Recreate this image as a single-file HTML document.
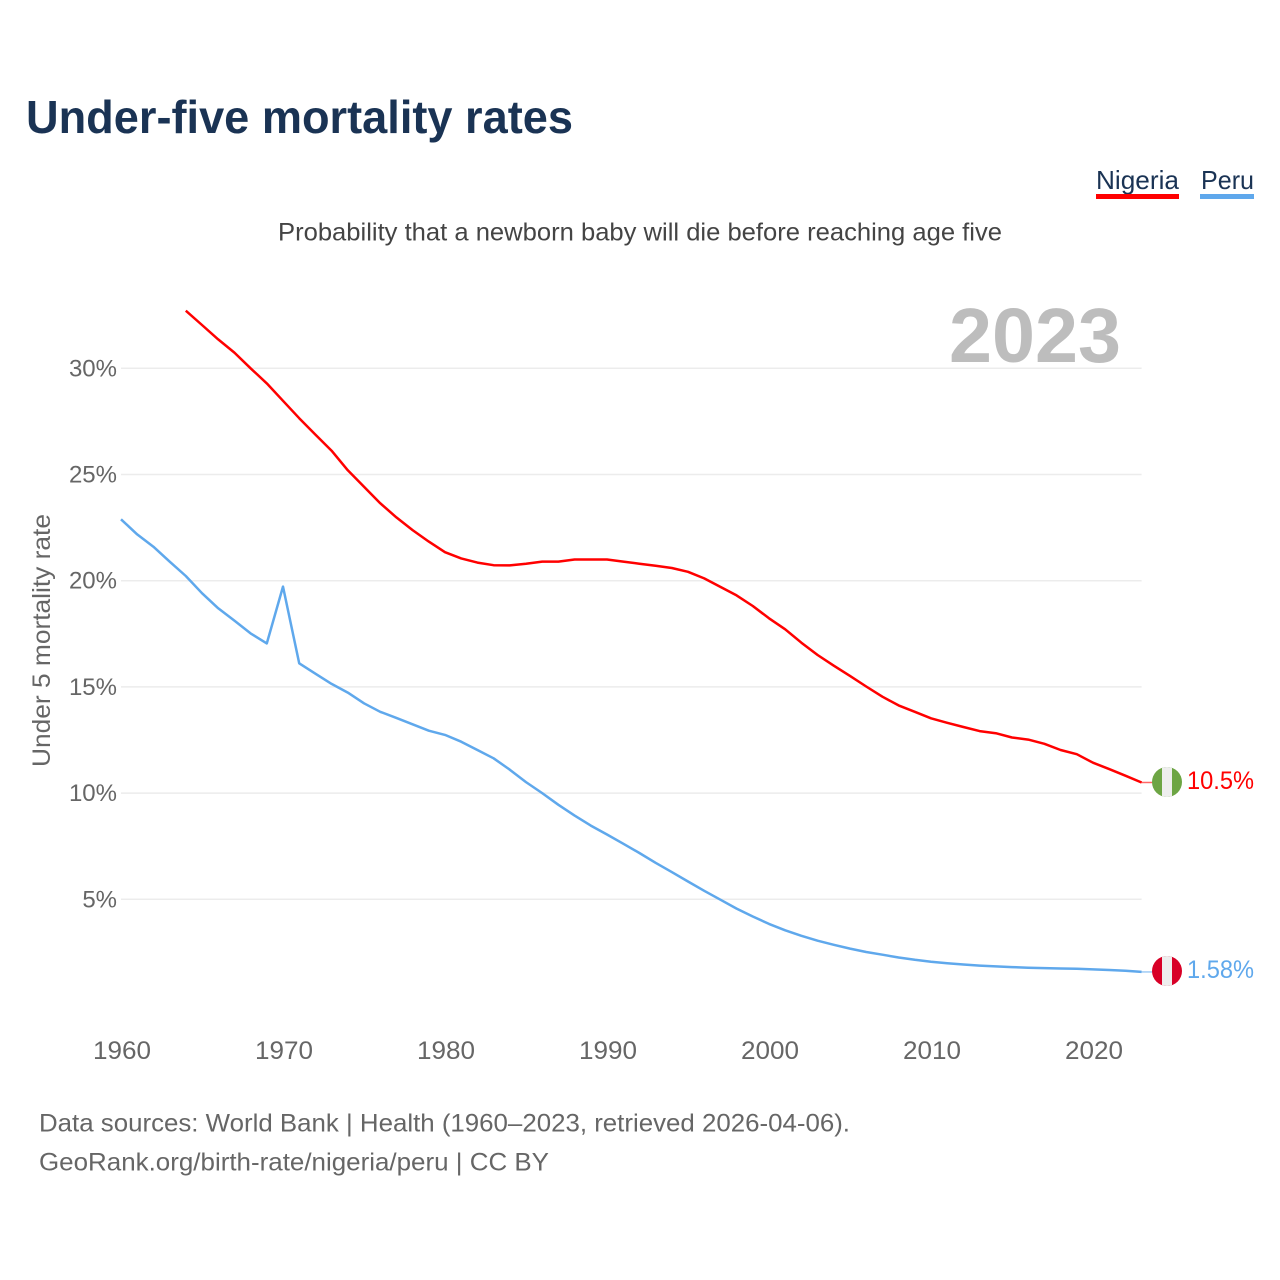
<!DOCTYPE html>
<html lang="en">
<head>
<meta charset="utf-8">
<title>Under-five mortality rates</title>
<style>
html,body{margin:0;padding:0;background:#fff;}
svg{display:block;}
text{font-family:"Liberation Sans",sans-serif;}
</style>
</head>
<body>
<svg id="chart" xmlns="http://www.w3.org/2000/svg" width="1280" height="1280" viewBox="0 0 1280 1280">
  <rect width="1280" height="1280" fill="#fff"/>
  <text x="26" y="133" font-size="46" font-weight="700" fill="#1a3354" textLength="547" lengthAdjust="spacingAndGlyphs">Under-five mortality rates</text>
  <g>
    <text x="1096" y="189" font-size="26" fill="#1a3354" textLength="83" lengthAdjust="spacingAndGlyphs">Nigeria</text>
    <rect x="1096" y="194" width="83" height="5" fill="#ff0000"/>
  </g>
  <g>
    <text x="1201" y="189" font-size="26" fill="#1a3354" textLength="53" lengthAdjust="spacingAndGlyphs">Peru</text>
    <rect x="1200" y="194" width="54" height="5" fill="#5fa8ec"/>
  </g>
  <text x="278" y="240.5" font-size="25" fill="#444" textLength="724" lengthAdjust="spacingAndGlyphs">Probability that a newborn baby will die before reaching age five</text>
  <g id="grid"></g>
  <g id="yticks"></g>
  <g id="xticks"></g>
  <text transform="translate(50,767) rotate(-90)" font-size="25" fill="#666" textLength="253" lengthAdjust="spacingAndGlyphs">Under 5 mortality rate</text>
  <text x="949" y="362" font-size="77" font-weight="700" fill="#bdbdbd" textLength="172" lengthAdjust="spacingAndGlyphs">2023</text>
  <g id="series"></g>
  <defs>
    <clipPath id="clip-ng"><circle cx="1167" cy="782" r="15"/></clipPath>
    <clipPath id="clip-pe"><circle cx="1167" cy="971" r="15"/></clipPath>
  </defs>
  <g clip-path="url(#clip-ng)">
    <rect x="1152" y="767" width="30" height="30" fill="#6da544"/>
    <rect x="1162" y="767" width="10" height="30" fill="#eeeeee"/>
  </g>
  <g clip-path="url(#clip-pe)">
    <rect x="1152" y="956" width="30" height="30" fill="#d80027"/>
    <rect x="1162" y="956" width="10" height="30" fill="#eeeeee"/>
  </g>
  <text x="1187" y="789" font-size="25" fill="#ff0000" textLength="67" lengthAdjust="spacingAndGlyphs">10.5%</text>
  <text x="1187" y="978" font-size="25" fill="#5fa8ec" textLength="67" lengthAdjust="spacingAndGlyphs">1.58%</text>
  <text x="39" y="1131.5" font-size="25" fill="#666" textLength="811" lengthAdjust="spacingAndGlyphs">Data sources: World Bank | Health (1960–2023, retrieved 2026-04-06).</text>
  <a><text x="39" y="1170.5" font-size="25" fill="#666" textLength="510" lengthAdjust="spacingAndGlyphs">GeoRank.org/birth-rate/nigeria/peru | CC BY</text></a>
</svg>
<script>
const years = [1960,1961,1962,1963,1964,1965,1966,1967,1968,1969,1970,1971,1972,1973,1974,1975,1976,1977,1978,1979,1980,1981,1982,1983,1984,1985,1986,1987,1988,1989,1990,1991,1992,1993,1994,1995,1996,1997,1998,1999,2000,2001,2002,2003,2004,2005,2006,2007,2008,2009,2010,2011,2012,2013,2014,2015,2016,2017,2018,2019,2020,2021,2022,2023];
const nigeriaValues = [null,null,null,null,32.71,32.04,31.36,30.74,30.0,29.29,28.47,27.65,26.88,26.12,25.2,24.42,23.65,22.98,22.38,21.84,21.34,21.05,20.85,20.73,20.72,20.8,20.9,20.9,21.0,21.0,21.0,20.9,20.8,20.7,20.6,20.42,20.11,19.71,19.31,18.81,18.23,17.71,17.08,16.5,16.0,15.52,15.02,14.54,14.13,13.83,13.52,13.31,13.11,12.92,12.82,12.62,12.52,12.32,12.03,11.83,11.43,11.13,10.82,10.5];
const peruValues = [22.89,22.18,21.6,20.9,20.22,19.41,18.7,18.12,17.52,17.05,19.72,16.11,15.62,15.14,14.73,14.23,13.83,13.54,13.24,12.94,12.74,12.42,12.03,11.64,11.1,10.52,10.0,9.45,8.94,8.47,8.05,7.62,7.18,6.72,6.28,5.84,5.4,4.98,4.56,4.19,3.84,3.54,3.28,3.05,2.86,2.68,2.52,2.39,2.26,2.15,2.06,1.99,1.93,1.88,1.84,1.81,1.78,1.76,1.74,1.73,1.7,1.67,1.64,1.58];
const yTickValues = [5,10,15,20,25,30];
const yTickLabels = ["5%","10%","15%","20%","25%","30%"];
const xTickValues = [1960,1970,1980,1990,2000,2010,2020];
const xTickLabels = ["1960","1970","1980","1990","2000","2010","2020"];

const NS = "http://www.w3.org/2000/svg";
const xScale = function (year) { return 121 + (year - 1960) * 16.2; };
const yScale = function (value) { return 1005.5 - value * 21.24; };

function svgEl(tag, attrs) {
  const el = document.createElementNS(NS, tag);
  Object.keys(attrs).forEach(function (k) { el.setAttribute(k, attrs[k]); });
  return el;
}

const gridGroup = document.getElementById("grid");
const yTickGroup = document.getElementById("yticks");
const xTickGroup = document.getElementById("xticks");
const seriesGroup = document.getElementById("series");

yTickValues.forEach(function (v, i) {
  const line = svgEl("line", { x1: 121, x2: 1141.6, y1: yScale(v), y2: yScale(v), stroke: "#ececec", "stroke-width": 1.5 });
  
  
  gridGroup.appendChild(line);

  const label = svgEl("text", { x: 117, y: yScale(v) + 8, "text-anchor": "end", "font-size": 24, fill: "#666" });
  
  
  label.textContent = yTickLabels[i];
  yTickGroup.appendChild(label);
});

xTickValues.forEach(function (v, i) {
  const label = svgEl("text", { x: xScale(v) + 1, y: 1059, "text-anchor": "middle", "font-size": 25, fill: "#666", textLength: 58, lengthAdjust: "spacingAndGlyphs" });
  
  
  label.textContent = xTickLabels[i];
  xTickGroup.appendChild(label);
});

function linePoints(values) {
  const pts = [];
  values.forEach(function (v, i) {
    if (v !== null) pts.push(xScale(years[i]).toFixed(1) + "," + yScale(v).toFixed(1));
  });
  return pts.join(" ");
}

const lastYear = years[years.length - 1];

const peruLine = svgEl("polyline", { points: linePoints(peruValues), fill: "none", stroke: "#5fa8ec", "stroke-width": 2.5, "stroke-linejoin": "round" });


seriesGroup.appendChild(peruLine);

const nigeriaLine = svgEl("polyline", { points: linePoints(nigeriaValues), fill: "none", stroke: "#ff0000", "stroke-width": 2.5, "stroke-linejoin": "round" });


seriesGroup.appendChild(nigeriaLine);

const peruLast = peruValues[peruValues.length - 1];
const peruLead = svgEl("line", { x1: xScale(lastYear), x2: 1153, y1: yScale(peruLast), y2: yScale(peruLast), stroke: "#5fa8ec", "stroke-width": 1.5, "stroke-opacity": 0.6 });


seriesGroup.appendChild(peruLead);

const nigeriaLast = nigeriaValues[nigeriaValues.length - 1];
const nigeriaLead = svgEl("line", { x1: xScale(lastYear), x2: 1153, y1: yScale(nigeriaLast), y2: yScale(nigeriaLast), stroke: "#ff0000", "stroke-width": 1.5, "stroke-opacity": 0.6 });


seriesGroup.appendChild(nigeriaLead);
</script>
</body>
</html>
